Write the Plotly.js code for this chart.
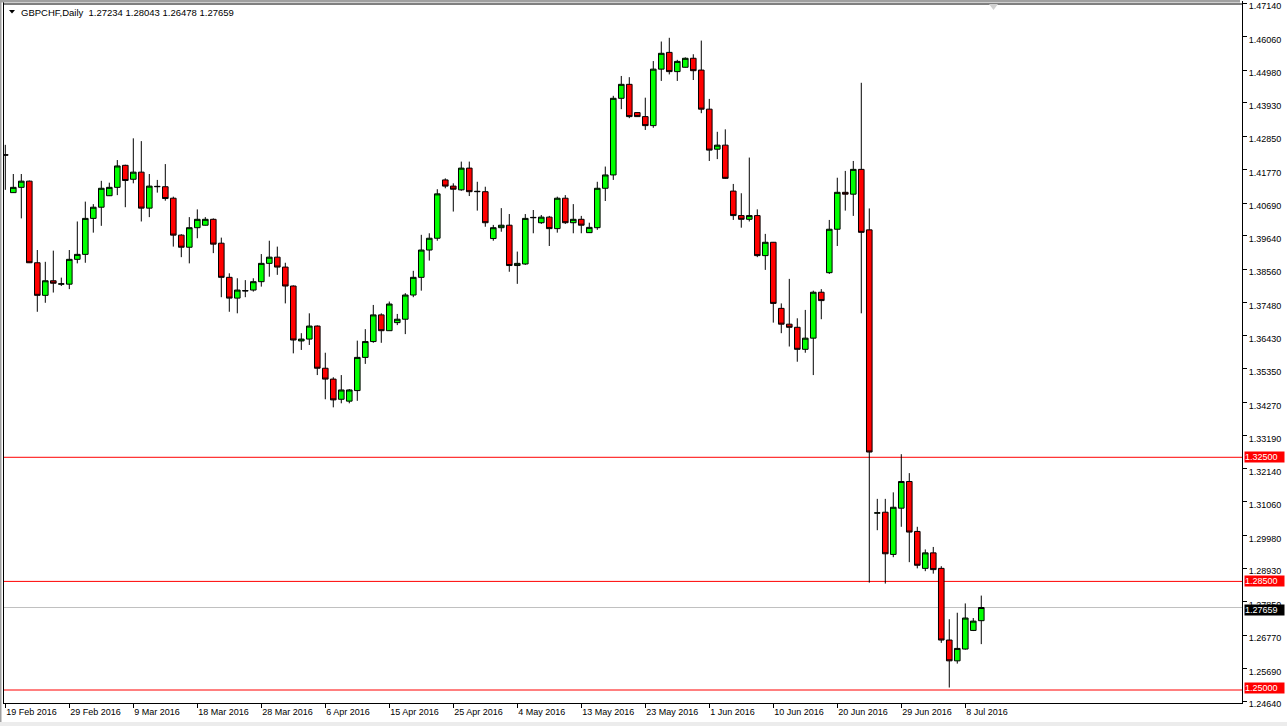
<!DOCTYPE html>
<html>
<head>
<meta charset="utf-8">
<script src="https://cdn.plot.ly/plotly-3.0.1.min.js"></script>
<style>html,body{margin:0;padding:0;background:#fff;overflow:hidden}</style>
</head>
<body>
<div id="chart" style="width:1287px;height:726px"></div>
<script>
// ---- data ----
const dates = [
 '2016-02-19',
 '2016-02-21','2016-02-22','2016-02-23','2016-02-24','2016-02-25','2016-02-26',
 '2016-02-28','2016-02-29','2016-03-01','2016-03-02','2016-03-03','2016-03-04',
 '2016-03-06','2016-03-07','2016-03-08','2016-03-09','2016-03-10','2016-03-11',
 '2016-03-13','2016-03-14','2016-03-15','2016-03-16','2016-03-17','2016-03-18',
 '2016-03-20','2016-03-21','2016-03-22','2016-03-23','2016-03-24','2016-03-25',
 '2016-03-27','2016-03-28','2016-03-29','2016-03-30','2016-03-31','2016-04-01',
 '2016-04-03','2016-04-04','2016-04-05','2016-04-06','2016-04-07','2016-04-08',
 '2016-04-10','2016-04-11','2016-04-12','2016-04-13','2016-04-14','2016-04-15',
 '2016-04-17','2016-04-18','2016-04-19','2016-04-20','2016-04-21','2016-04-22',
 '2016-04-24','2016-04-25','2016-04-26','2016-04-27','2016-04-28','2016-04-29',
 '2016-05-01','2016-05-02','2016-05-03','2016-05-04','2016-05-05','2016-05-06',
 '2016-05-08','2016-05-09','2016-05-10','2016-05-11','2016-05-12','2016-05-13',
 '2016-05-15','2016-05-16','2016-05-17','2016-05-18','2016-05-19','2016-05-20',
 '2016-05-22','2016-05-23','2016-05-24','2016-05-25','2016-05-26','2016-05-27',
 '2016-05-29','2016-05-30','2016-05-31','2016-06-01','2016-06-02','2016-06-03',
 '2016-06-05','2016-06-06','2016-06-07','2016-06-08','2016-06-09','2016-06-10',
 '2016-06-12','2016-06-13','2016-06-14','2016-06-15','2016-06-16','2016-06-17',
 '2016-06-19','2016-06-20','2016-06-21','2016-06-22','2016-06-23','2016-06-24',
 '2016-06-26','2016-06-27','2016-06-28','2016-06-29','2016-06-30','2016-07-01',
 '2016-07-03','2016-07-04','2016-07-05','2016-07-06','2016-07-07','2016-07-08',
 '2016-07-10','2016-07-11'
];
const openP = [
 1.4225,
 1.4103,1.4120,1.4140,1.3877,1.3772,1.3819,
 1.3808,1.3808,1.3888,1.3904,1.4020,1.4056,
 1.4093,1.4120,1.4191,1.4146,1.4169,1.4053,
 1.4122,1.4122,1.4085,1.3966,1.3927,1.3990,
 1.3998,1.4017,1.3940,1.3830,1.3763,1.3786,
 1.3789,1.3816,1.3875,1.3895,1.3863,1.3802,
 1.3625,1.3631,1.3673,1.3537,1.3502,1.3437,
 1.3431,1.3465,1.3572,1.3623,1.3709,1.3658,
 1.3684,1.3695,1.3773,1.3830,1.3918,1.3956,
 1.4144,1.4124,1.4112,1.4182,1.4106,1.4106,
 1.3955,1.3990,1.3998,1.3868,1.3873,1.4022,
 1.4006,1.4024,1.3987,1.4085,1.4006,1.4017,
 1.3974,1.3990,1.4117,1.4160,1.4407,1.4452,
 1.4361,1.4348,1.4319,1.4501,1.4555,1.4493,
 1.4507,1.4536,1.4498,1.4372,1.4243,1.4256,
 1.4108,1.4029,1.4017,1.4029,1.3900,1.3943,
 1.3730,1.3679,1.3669,1.3598,1.3634,1.3782,
 1.3845,1.3985,1.4104,1.4098,1.4178,1.3983,
 1.3070,1.3073,1.2937,1.3086,1.3172,1.3011,
 1.2892,1.2942,1.2892,1.2661,1.2594,1.2632,
 1.2692,1.27234
];
const highP = [
 1.4257,
 1.4163,1.4163,1.4142,1.3918,1.3880,1.3916,
 1.3829,1.3918,1.4010,1.4074,1.4066,1.4141,
 1.4135,1.4208,1.4193,1.4278,1.4269,1.4163,
 1.4144,1.4195,1.4090,1.3969,1.4024,1.4049,
 1.4024,1.4020,1.3958,1.3843,1.3827,1.3821,
 1.3827,1.3905,1.3948,1.3929,1.3877,1.3804,
 1.3650,1.3714,1.3675,1.3587,1.3508,1.3515,
 1.3470,1.3626,1.3663,1.3741,1.3714,1.3752,
 1.3712,1.3779,1.3851,1.3967,1.3972,1.4114,
 1.4149,1.4133,1.4203,1.4203,1.4138,1.4122,
 1.3999,1.4053,1.4034,1.3913,1.4034,1.4047,
 1.4031,1.4028,1.4090,1.4095,1.4066,1.4028,
 1.4006,1.4138,1.4187,1.4415,1.4479,1.4475,
 1.4362,1.4409,1.4527,1.4590,1.4602,1.4531,
 1.4539,1.4549,1.4593,1.4405,1.4299,1.4307,
 1.4131,1.4101,1.4216,1.4049,1.3970,1.3944,
 1.3746,1.3825,1.3698,1.3725,1.3787,1.3792,
 1.4015,1.4151,1.4173,1.4205,1.4457,1.4052,
 1.3116,1.3116,1.3137,1.3260,1.3199,1.3026,
 1.2953,1.2961,1.2899,1.2728,1.2749,1.2779,
 1.2732,1.28043
];
const lowP = [
 1.4112,
 1.4102,1.4020,1.3876,1.3719,1.3748,1.3781,
 1.3802,1.3792,1.3875,1.3877,1.3974,1.3996,
 1.4092,1.4095,1.4056,1.4133,1.4010,1.4024,
 1.4103,1.4077,1.3929,1.3895,1.3875,1.3956,
 1.3997,1.3908,1.3766,1.3719,1.3714,1.3766,
 1.3784,1.3800,1.3832,1.3838,1.3746,1.3585,
 1.3596,1.3612,1.3515,1.3437,1.3411,1.3424,
 1.3424,1.3432,1.3551,1.3619,1.3619,1.3657,
 1.3676,1.3647,1.3766,1.3787,1.3884,1.3948,
 1.4117,1.4042,1.4109,1.4092,1.4045,1.3993,
 1.3948,1.3977,1.3848,1.3809,1.3870,1.3972,
 1.4002,1.3931,1.3974,1.4002,1.3972,1.3972,
 1.3973,1.3983,1.4076,1.4144,1.4372,1.4343,
 1.4347,1.4305,1.4312,1.4463,1.4484,1.4463,
 1.4506,1.4466,1.4359,1.4205,1.4211,1.4147,
 1.4015,1.3990,1.4010,1.3895,1.3854,1.3684,
 1.3650,1.3607,1.3558,1.3587,1.3515,1.3695,
 1.3841,1.3931,1.4045,1.4028,1.3714,1.2846,
 1.3015,1.2843,1.2928,1.3026,1.2912,1.2892,
 1.2883,1.2875,1.2652,1.2508,1.2585,1.2630,
 1.2690,1.26478
];
const closeP = [
 1.4224,
 1.4120,1.4140,1.3877,1.3772,1.3819,1.3811,
 1.3809,1.3888,1.3904,1.4020,1.4056,1.4117,
 1.4120,1.4189,1.4142,1.4169,1.4053,1.4124,
 1.4123,1.4084,1.3966,1.3927,1.3990,1.4017,
 1.4017,1.3937,1.3830,1.3763,1.3789,1.3787,
 1.3816,1.3875,1.3895,1.3863,1.3802,1.3628,
 1.3631,1.3673,1.3537,1.3502,1.3435,1.3467,
 1.3467,1.3572,1.3623,1.3709,1.3658,1.3744,
 1.3695,1.3773,1.3830,1.3918,1.3956,1.4099,
 1.4124,1.4114,1.4182,1.4106,1.4107,1.4006,
 1.3990,1.3998,1.3868,1.3875,1.4020,1.4023,
 1.4024,1.3987,1.4085,1.4006,1.4017,1.3998,
 1.3991,1.4117,1.4160,1.4407,1.4452,1.4348,
 1.4348,1.4319,1.4501,1.4552,1.4493,1.4526,
 1.4536,1.4496,1.4372,1.4240,1.4256,1.4149,
 1.4029,1.4017,1.4029,1.3900,1.3943,1.3746,
 1.3679,1.3669,1.3598,1.3634,1.3782,1.3755,
 1.3985,1.4104,1.4098,1.4178,1.3975,1.3267,
 1.3071,1.2939,1.3089,1.3172,1.3009,1.2902,
 1.2942,1.2888,1.2661,1.2594,1.2634,1.2732,
 1.2722,1.27659
];
const tickDates = ['2016-02-19','2016-02-29','2016-03-09','2016-03-18','2016-03-28','2016-04-06','2016-04-15','2016-04-25','2016-05-04','2016-05-13','2016-05-23','2016-06-01','2016-06-10','2016-06-20','2016-06-29','2016-07-08'];
const tickLabels = ['19 Feb 2016','29 Feb 2016','9 Mar 2016','18 Mar 2016','28 Mar 2016','6 Apr 2016','15 Apr 2016','25 Apr 2016','4 May 2016','13 May 2016','23 May 2016','1 Jun 2016','10 Jun 2016','20 Jun 2016','29 Jun 2016','8 Jul 2016'];
const priceTicks = [1.47140,1.46060,1.44980,1.43930,1.42850,1.41770,1.40690,1.39640,1.38560,1.37480,1.36430,1.35350,1.34270,1.33190,1.32140,1.31060,1.29980,1.28930,1.27850,1.26770,1.25690,1.24640];
const levelLines = [1.32500, 1.28500, 1.25000];
const bidPrice = 1.27659;
const headerText = 'GBPCHF,Daily  1.27234 1.28043 1.26478 1.27659';

// ---- layout geometry ----
const W = 1287, H = 726, ML = 4, MR = 45, MT = 1, MB = 23;
const PW = W - ML - MR, PH = H - MT - MB;
const px2x = p => (p - ML) / PW;
const py2y = p => (H - MB - p) / PH;
const FONT = 'Liberation Sans, Arial, sans-serif';
const levelLabelShift = [0, 0, 2.5];

const trace = {
  type: 'candlestick',
  x: dates, open: openP, high: highP, low: lowP, close: closeP,
  increasing: {line: {color: '#000000', width: 1}, fillcolor: '#00ff00'},
  decreasing: {line: {color: '#000000', width: 1}, fillcolor: '#ff0000'},
  whiskerwidth: 0,
  showlegend: false,
  hoverinfo: 'x'
};

const shapes = [];
levelLines.forEach(v => shapes.push({type: 'line', xref: 'paper', yref: 'y', x0: 0, x1: 1, y0: v, y1: v, line: {color: '#ff0000', width: 1}, layer: 'below'}));
shapes.push({type: 'line', xref: 'paper', yref: 'y', x0: 0, x1: 1, y0: bidPrice, y1: bidPrice, line: {color: '#c0c0c0', width: 1}, layer: 'below'});
// chart frame top line and window edge bits
shapes.push({type: 'line', xref: 'paper', yref: 'paper', x0: px2x(3.5), x1: px2x(1242), y0: py2y(4), y1: py2y(4), line: {color: '#000', width: 1}});
shapes.push({type: 'rect', xref: 'paper', yref: 'paper', x0: px2x(0), x1: px2x(1240), y0: py2y(2.5), y1: py2y(0), line: {width: 0}, fillcolor: '#a0a0a0'});
shapes.push({type: 'rect', xref: 'paper', yref: 'paper', x0: px2x(0), x1: px2x(1.5), y0: py2y(H), y1: py2y(0), line: {width: 0}, fillcolor: '#a0a0a0'});
shapes.push({type: 'rect', xref: 'paper', yref: 'paper', x0: px2x(0), x1: px2x(W), y0: py2y(H), y1: py2y(722), line: {width: 0}, fillcolor: '#ececec'});
// header triangle and chart-shift marker
shapes.push({type: 'path', xref: 'paper', yref: 'paper', path: `M ${px2x(9)} ${py2y(10)} L ${px2x(15)} ${py2y(10)} L ${px2x(12)} ${py2y(13.5)} Z`, fillcolor: '#000', line: {width: 0}});
shapes.push({type: 'path', xref: 'paper', yref: 'paper', path: `M ${px2x(989)} ${py2y(4)} L ${px2x(998)} ${py2y(4)} L ${px2x(993.5)} ${py2y(10)} Z`, fillcolor: '#d0d0d0', line: {width: 0}});

const annotations = [{
  xref: 'paper', yref: 'paper', x: px2x(18.5), y: py2y(12), xanchor: 'left', yanchor: 'middle',
  text: headerText, showarrow: false, font: {family: FONT, size: 9.5, color: '#000'}
}];
levelLines.forEach((v, k) => annotations.push({
  xref: 'paper', yref: 'y', x: 1, y: v, xanchor: 'left', yanchor: 'middle', xshift: 2, yshift: levelLabelShift[k],
  text: v.toFixed(5), showarrow: false, bgcolor: '#ff0000', width: 39, height: 10, borderpad: 0, align: 'left',
  font: {family: FONT, size: 9, color: '#ffffff'}
}));
annotations.push({
  xref: 'paper', yref: 'y', x: 1, y: bidPrice, xanchor: 'left', yanchor: 'middle', xshift: 2, yshift: -2,
  text: bidPrice.toFixed(5), showarrow: false, bgcolor: '#000000', width: 39, height: 10, borderpad: 0, align: 'left',
  font: {family: FONT, size: 9, color: '#ffffff'}
});

const layout = {
  width: W, height: H,
  margin: {l: ML, r: MR, t: MT, b: MB, pad: 0},
  paper_bgcolor: '#ffffff', plot_bgcolor: '#ffffff',
  showlegend: false,
  boxgap: 0.3, boxgroupgap: 0,
  xaxis: {
    type: 'category', range: [-0.1625, 154.59], autorange: false,
    tickmode: 'array', tickvals: tickDates, ticktext: tickLabels,
    ticks: 'outside', ticklen: 4, tickcolor: '#000', tickwidth: 1,
    ticklabelposition: 'outside right', ticklabeloverflow: 'allow',
    tickfont: {family: FONT, size: 9, color: '#000'},
    showline: true, linecolor: '#000', linewidth: 1, mirror: false,
    showgrid: false, zeroline: false, fixedrange: true,
    rangeslider: {visible: false}
  },
  yaxis: {
    side: 'right', range: [1.24581, 1.47206], autorange: false,
    tickmode: 'array', tickvals: priceTicks, ticktext: priceTicks.map(v => v.toFixed(5)),
    ticks: 'outside', ticklen: 4, tickcolor: '#000', tickwidth: 1,
    ticklabeloverflow: 'allow', ticklabelshift: 3,
    tickfont: {family: FONT, size: 9, color: '#000'},
    showline: true, linecolor: '#000', linewidth: 1, mirror: true,
    showgrid: false, zeroline: false, fixedrange: true
  },
  shapes: shapes,
  annotations: annotations
};

Plotly.newPlot('chart', [trace], layout, {displayModeBar: false, staticPlot: true});
</script>
</body>
</html>
